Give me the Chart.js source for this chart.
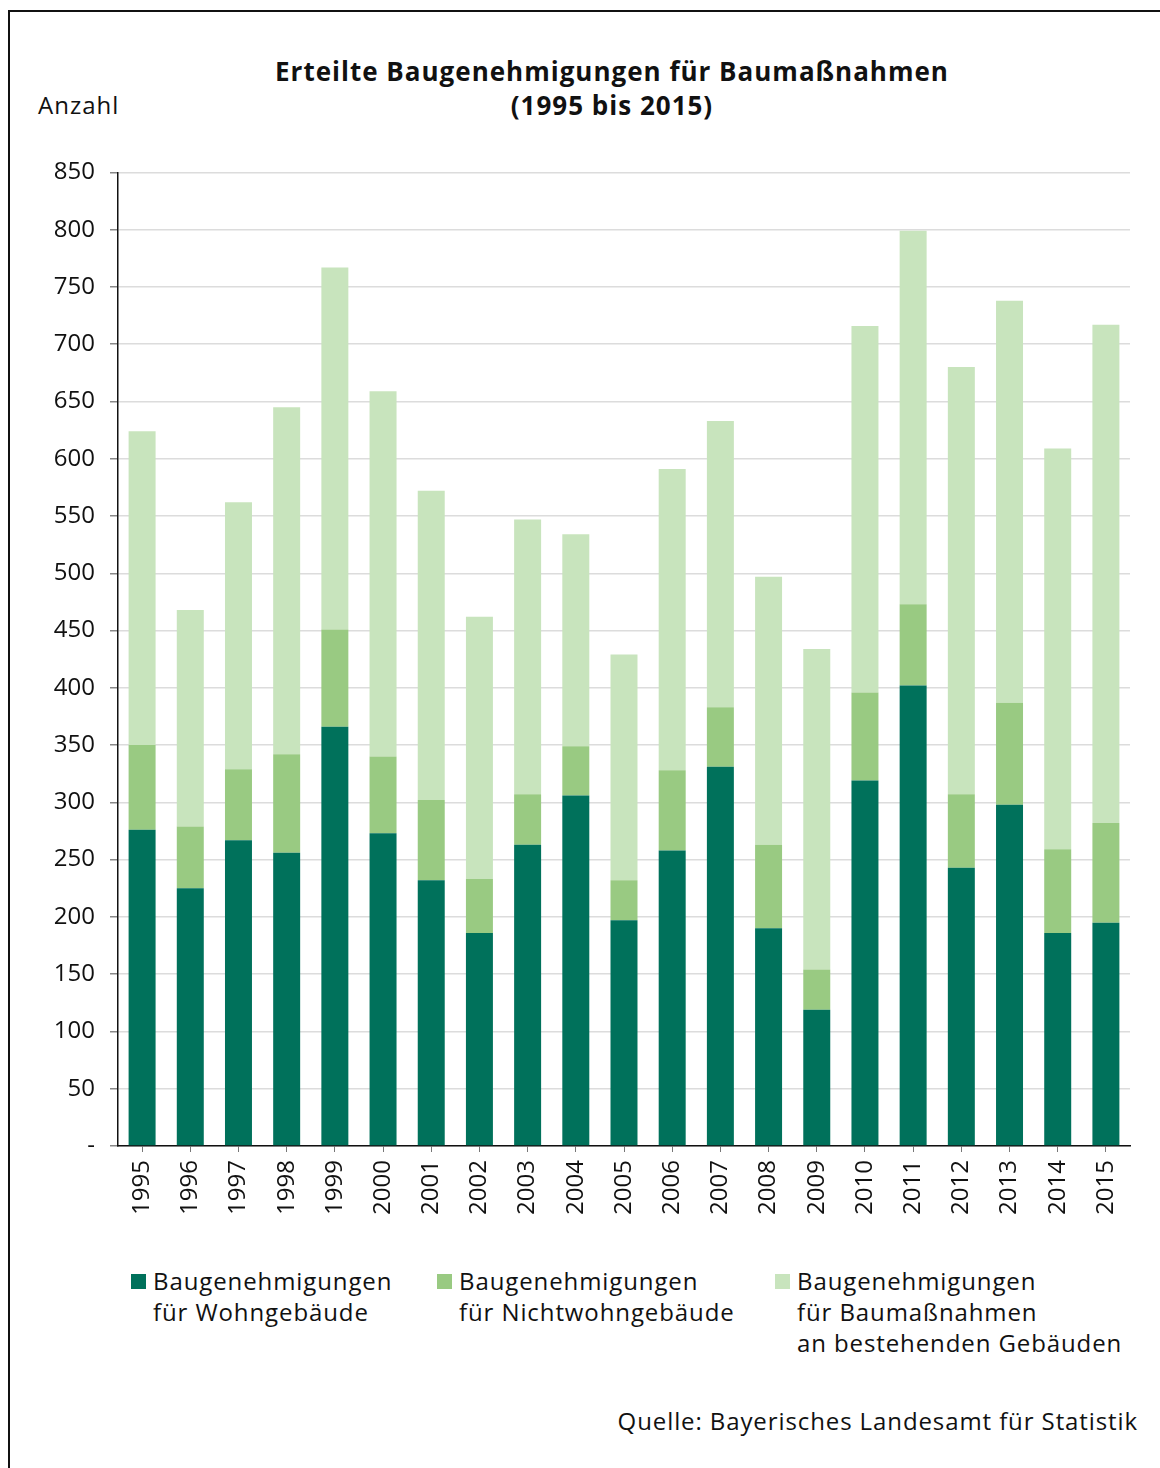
<!DOCTYPE html>
<html lang="de">
<head>
    <meta charset="UTF-8">
    <title>Erteilte Baugenehmigungen für Baumaßnahmen</title>
    <style>
        body {
            margin: 0;
            padding: 0;
            background: #fff;
            font-family: 'Open Sans', 'Liberation Sans', Arial, sans-serif;
            color: #111;
        }
        #page {
            position: relative;
            width: 1160px;
            height: 1468px;
            overflow: hidden;
        }
        .frame {
            position: absolute;
            left: 8px;
            top: 10px;
            width: 1200px;
            height: 1500px;
            border-top: 2px solid #111;
            border-left: 2px solid #111;
        }
        h1 {
            position: absolute;
            left: 212px;
            width: 800px;
            top: 54px;
            margin: 0;
            text-align: center;
            font-size: 26px;
            line-height: 34px;
            letter-spacing: 1px;
            font-weight: 700;
        }
        .unit {
            position: absolute;
            left: 38px;
            top: 88px;
            font-size: 24px;
            letter-spacing: 1px;
        }
        #chartBox {
            position: absolute;
            left: 0;
            top: 143px;
            width: 1160px;
            height: 1097px;
        }
        .legend-item {
            position: absolute;
            top: 1265px;
            font-size: 24px;
            line-height: 31px;
            letter-spacing: 0.9px;
            padding-left: 22px;
        }
        .legend-item span.box {
            position: absolute;
            left: 0;
            top: 9px;
            width: 15px;
            height: 15px;
        }
        .source {
            position: absolute;
            right: 22px;
            top: 1404px;
            font-size: 24px;
            letter-spacing: 0.9px;
        }
    </style>
</head>
<body>
<div id="page">
    <div class="frame"></div>
    <h1>Erteilte Baugenehmigungen für Baumaßnahmen<br>(1995 bis 2015)</h1>
    <div class="unit">Anzahl</div>
    <div id="chartBox"><canvas id="chart"></canvas></div>
    <div id="legend"></div>
    <div class="source">Quelle: Bayerisches Landesamt für Statistik</div>
</div>
<script src="https://cdn.jsdelivr.net/npm/chart.js"></script>
<script>
    // Jahre
    const years = ['1995','1996','1997','1998','1999','2000','2001','2002','2003','2004','2005',
                   '2006','2007','2008','2009','2010','2011','2012','2013','2014','2015'];

    // Baugenehmigungen für Wohngebäude
    const wohngebaeude = [276,225,267,256,366,273,232,186,263,306,197,258,331,190,119,319,402,243,298,186,195];
    // Baugenehmigungen für Nichtwohngebäude
    const nichtwohngebaeude = [74,54,62,86,85,67,70,47,44,43,35,70,52,73,35,77,71,64,89,73,87];
    // Baugenehmigungen für Baumaßnahmen an bestehenden Gebäuden
    const bestehendeGebaeude = [274,189,233,303,316,319,270,229,240,185,197,263,250,234,280,320,326,373,351,350,435];

    const seriesLabels = [
        ['Baugenehmigungen', 'für Wohngebäude'],
        ['Baugenehmigungen', 'für Nichtwohngebäude'],
        ['Baugenehmigungen', 'für Baumaßnahmen', 'an bestehenden Gebäuden']
    ];
    const seriesColors = ['#00715B', '#99CA82', '#C8E4BD'];
    const legendLeft = [131, 437, 775];

    const axisFont = { family: "'Open Sans', 'Liberation Sans', Arial, sans-serif", size: 24 };

    const datasets = [wohngebaeude, nichtwohngebaeude, bestehendeGebaeude].map((d, i) => ({
        label: seriesLabels[i].join(' '),
        data: d,
        backgroundColor: seriesColors[i],
        borderWidth: 0,
        barPercentage: 0.56,
        categoryPercentage: 1.0
    }));

    // HTML-Legende
    const legend = document.getElementById('legend');
    seriesLabels.forEach((lines, i) => {
        const item = document.createElement('div');
        item.className = 'legend-item';
        item.style.left = legendLeft[i] + 'px';
        item.innerHTML = '<span class="box" style="background:' + seriesColors[i] + '"></span>' + lines.join('<br>');
        legend.appendChild(item);
    });

    new Chart(document.getElementById('chart'), {
        type: 'bar',
        data: { labels: years, datasets: datasets },
        options: {
            responsive: true,
            maintainAspectRatio: false,
            animation: false,
            layout: { padding: { top: 0, right: 30, left: 0, bottom: 0 } },
            plugins: {
                legend: { display: false },
                tooltip: { enabled: false }
            },
            scales: {
                x: {
                    stacked: true,
                    afterFit: (s) => { s.height = 94; },
                    grid: {
                        offset: false,
                        drawOnChartArea: false,
                        tickLength: 6,
                        color: '#777'
                    },
                    border: { color: '#111', width: 1.5 },
                    ticks: {
                        autoSkip: false,
                        minRotation: 90,
                        maxRotation: 90,
                        padding: 8,
                        color: '#111',
                        font: axisFont
                    }
                },
                y: {
                    stacked: true,
                    min: 0,
                    max: 850,
                    afterFit: (s) => { s.width = 118; },
                    grid: {
                        color: '#dcdcdc',
                        lineWidth: 1.5,
                        tickLength: 8,
                        tickColor: '#888'
                    },
                    border: { color: '#111', width: 1.5 },
                    ticks: {
                        stepSize: 50,
                        padding: 15,
                        color: '#111',
                        font: axisFont,
                        callback: (v) => v === 0 ? '-' : v
                    }
                }
            }
        }
    });
</script>
</body>
</html>
